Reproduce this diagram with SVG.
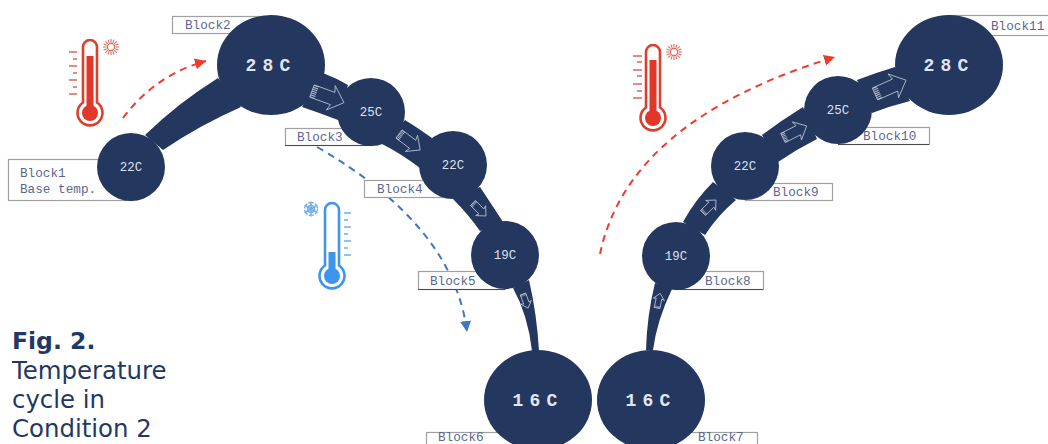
<svg xmlns="http://www.w3.org/2000/svg" width="1048" height="444" viewBox="0 0 1048 444">
<style>
.band{fill:#24375f}
.node{fill:#24375f}
.box{fill:#fff;stroke:#a0a0a0;stroke-width:1.2}
.edge{stroke:#4a4a4a;stroke-width:1.2}
.lbl{font-family:"Liberation Mono",monospace;font-size:12.7px;fill:#5b678f}
.t{font-family:"Liberation Mono",monospace;font-size:12.4px;fill:#dde2ee;text-anchor:middle}
.T{font-family:"Liberation Mono",monospace;font-size:18px;font-weight:700;fill:#e0e5f0;text-anchor:middle;word-spacing:-4.6px}
.fig{font-family:"DejaVu Sans",Verdana,sans-serif;font-size:24.4px;fill:#1f3864}
.dr{fill:none;stroke:#ee3b2e;stroke-width:2;stroke-dasharray:7 5.5}
.db{fill:none;stroke:#3f78bd;stroke-width:2;stroke-dasharray:7 5.5}
.ar{fill:none;stroke:#b9c0d0;stroke-width:.9;vector-effect:non-scaling-stroke}
.ha{fill:none;stroke:#b9c0d0;stroke-width:5;stroke-dasharray:1 1}
.rd{stroke:#d9402f;fill:#e0372a}
.bl{stroke:#3f95ee;fill:#3f95ee}
.kr{stroke:#d9685c;stroke-width:1.6;fill:none}
.kb{stroke:#72aee8;stroke-width:1.6;fill:none}
</style>
<defs>
<marker id="hr" markerUnits="userSpaceOnUse" markerWidth="12" markerHeight="12" refX="11" refY="6" orient="auto"><path d="M0,0.5L11,6L0,11.5z" fill="#ee3b2e"/></marker>
<marker id="hb" markerUnits="userSpaceOnUse" markerWidth="12" markerHeight="12" refX="11" refY="6" orient="auto"><path d="M0,0.5L11,6L0,11.500z" fill="#3f78bd"/></marker>
<g id="arrow"><path class="ar" d="M0,-6.500L22,-6.500L20,-13L34,0L20,13L22,6.500L0,6.500z"/><path class="ha" d="M2.500,-6.500V6.500"/></g>
<g id="tube"><path fill="#fff" stroke-width="2.600" d="M-7,-10.500V-66A7,7 0 0 1 7,-66V-10.500A12.500,12.500 0 1 1 -7,-10.500z"/><circle r="8" stroke="none"/></g>
<g id="sun"><circle r="3.600" fill="none" stroke="#d9685c" stroke-width="1.200"/><path fill="none" stroke="#d9685c" stroke-width="1.100" d="M0,-8V-4.600M0,8V4.600M-8,0H-4.600M8,0H4.600M-5.700,-5.700L-3.300,-3.300M5.700,5.700L3.300,3.300M-5.700,5.700L-3.300,3.300M5.700,-5.700L3.300,-3.300M-3,-7.400L-1.800,-4.300M3,7.400L1.800,4.300M3,-7.400L1.800,-4.300M-3,7.400L-1.800,4.300M-7.400,-3L-4.300,-1.800M7.400,3L4.300,1.800M-7.400,3L-4.300,1.800M7.400,-3L4.300,-1.800"/></g>
</defs>
<rect width="1048" height="444" fill="#fff"/>

<g id="connectors">
<path class="band" d="M145,135Q178,103 218,78L241,107Q200,125 163,150z"/>
<path class="band" d="M323,73Q336,78 348,85L338,120Q320,113 302,107z"/>
<path class="band" d="M405,120Q418,128 432,138L420,168Q400,153 382,144z"/>
<path class="band" d="M480,187Q490,202 503,222L480,231Q468,214 453,199z"/>
<path class="band" d="M529,280Q537,315 539,351L532,351Q528,315 513,288z"/>
<path class="band" d="M646,350Q647,315 655,283L672,289Q657,320 653,350z"/>
<path class="band" d="M683,222Q695,200 713,182L736,200Q718,215 705,235z"/>
<path class="band" d="M762,135Q782,120 803,107L817,139Q797,149 778,162z"/>
<path class="band" d="M857,80Q875,73 895,67L910,101Q890,106 872,113z"/>
<path class="dr" marker-end="url(#hr)" d="M123,118Q155,75 206,61"/>
<path class="dr" marker-end="url(#hr)" d="M600,254Q628,120 835,57"/>
<path class="db" marker-end="url(#hb)" d="M317,147Q454,226 467,332"/>
</g>

<g id="thermometer-1">
<use href="#tube" class="rd" x="90" y="113"/>
<rect x="86.500" y="56" width="7" height="57" fill="#e0372a"/>
<path class="kr" d="M69,52H77M73,59H77M69,66H77M73,73H77M69,80H77M73,87H77M69,94H77"/>
<use href="#sun" x="111" y="47"/>
</g>
<g id="thermometer-2">
<use href="#tube" class="bl" x="332" y="276"/>
<rect x="328.500" y="252" width="7" height="24" fill="#3f95ee"/>
<path class="kb" d="M344,213H351M344,220H348M344,227H351M344,234H348M344,241H351M344,248H348M344,255H351"/>
<g transform="translate(311,209)" fill="none" stroke="#72aee8" stroke-width="1.600"><circle r="3.500"/><path d="M0,-7.500V7.500M-6.500,-3.800L6.500,3.800M-6.500,3.800L6.500,-3.800"/><circle r="6.500" stroke-dasharray="2 1.400" stroke-width="1.400"/></g>
</g>
<g id="thermometer-3">
<use href="#tube" class="rd" x="653" y="118"/>
<rect x="649.500" y="60" width="7" height="58" fill="#e0372a"/>
<path class="kr" d="M633,56H642M637,62H642M633,70H642M637,76H642M633,84H642M637,91H642M633,98H642"/>
<use href="#sun" x="674" y="52"/>
</g>

<g id="block1"><rect class="box" x="8.500" y="159.500" width="125" height="41"/><text class="lbl" x="20" y="177">Block1</text><text class="lbl" x="20" y="193">Base temp.</text><circle class="node" cx="131" cy="167" r="34"/><text class="t" x="131" y="171">22C</text></g>
<g id="block2"><rect class="box" x="172.500" y="16.500" width="95" height="17"/><text class="lbl" x="185" y="29">Block2</text><ellipse class="node" cx="271" cy="65" rx="54" ry="50"/><text class="T" x="268" y="71">2 8 C</text></g>
<g id="block3"><rect class="box" x="285.500" y="128.500" width="87" height="17"/><path class="edge" d="M285,145.500H372"/><text class="lbl" x="297" y="141">Block3</text><circle class="node" cx="371" cy="112" r="34"/><text class="t" x="371" y="116">25C</text></g>
<g id="block4"><rect class="box" x="364.500" y="180.500" width="86" height="17"/><text class="lbl" x="377" y="193">Block4</text><circle class="node" cx="453" cy="165" r="34"/><text class="t" x="453" y="169">22C</text></g>
<g id="block5"><rect class="box" x="418.500" y="271.500" width="87" height="18"/><path class="edge" d="M418,289.500H505"/><text class="lbl" x="430" y="285">Block5</text><circle class="node" cx="505" cy="255" r="34"/><text class="t" x="505" y="259">19C</text></g>
<g id="block6"><rect class="box" x="426.500" y="432.500" width="90" height="20"/><text class="lbl" x="438" y="441">Block6</text><ellipse class="node" cx="538" cy="400" rx="54" ry="50"/><text class="T" x="535" y="406">1 6 C</text></g>
<g id="block7"><rect class="box" x="667.500" y="432.500" width="90" height="20"/><text class="lbl" x="698" y="441">Block7</text><ellipse class="node" cx="651" cy="400" rx="54" ry="50"/><text class="T" x="648" y="406">1 6 C</text></g>
<g id="block8"><rect class="box" x="676.500" y="271.500" width="87" height="18"/><path class="edge" d="M676,289.500H763"/><text class="lbl" x="705" y="285">Block8</text><circle class="node" cx="676" cy="256" r="34"/><text class="t" x="676" y="260">19C</text></g>
<g id="block9"><rect class="box" x="745.500" y="183.500" width="87" height="17"/><text class="lbl" x="773" y="196">Block9</text><circle class="node" cx="745" cy="166" r="34"/><text class="t" x="745" y="170">22C</text></g>
<g id="block10"><rect class="box" x="838.500" y="127.500" width="91" height="17"/><path class="edge" d="M838,144.500H929"/><text class="lbl" x="863" y="140">Block10</text><circle class="node" cx="838" cy="110" r="34"/><text class="t" x="838" y="114">25C</text></g>
<g id="block11"><rect class="box" x="950.500" y="15.500" width="105" height="20"/><text class="lbl" x="991" y="30">Block11</text><ellipse class="node" cx="949" cy="65" rx="54" ry="50"/><text class="T" x="946" y="71">2 8 C</text></g>

<g id="flow-arrows">
<use href="#arrow" transform="translate(312,91) rotate(20)"/>
<use href="#arrow" transform="translate(399,134) rotate(37) scale(.78)"/>
<use href="#arrow" transform="translate(473,203) rotate(45) scale(.54)"/>
<use href="#arrow" transform="translate(523,294) rotate(70) scale(.44)"/>
<use href="#arrow" transform="translate(657,308) rotate(-78) scale(.44)"/>
<use href="#arrow" transform="translate(703,213) rotate(-45) scale(.54)"/>
<use href="#arrow" transform="translate(783,138) rotate(-27) scale(.78)"/>
<use href="#arrow" transform="translate(875,94) rotate(-24)"/>
</g>

<g id="caption">
<text class="fig" x="12" y="349" font-weight="700" style="font-size:23.500px">Fig. 2.</text>
<text class="fig" x="12" y="379">Temperature</text>
<text class="fig" x="12" y="408">cycle in</text>
<text class="fig" x="12" y="437">Condition 2</text>
</g>
</svg>
